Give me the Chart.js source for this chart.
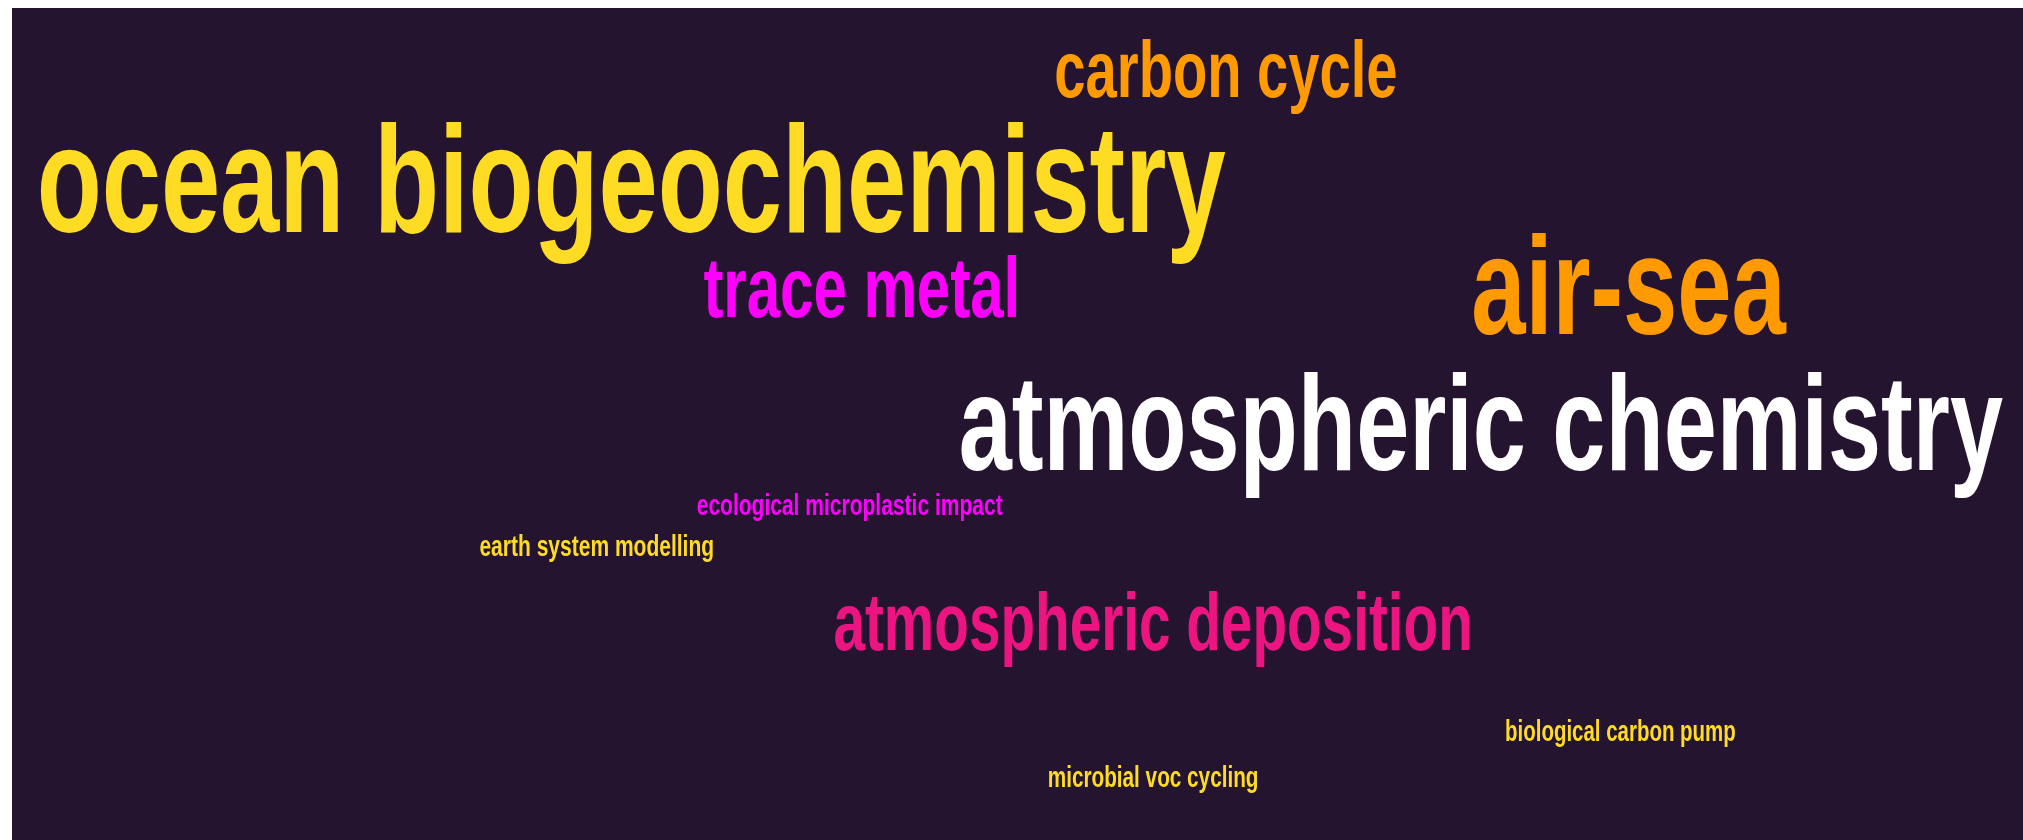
<!DOCTYPE html>
<html>
<head>
<meta charset="utf-8">
<title>Research topics</title>
<script src="https://cdn.jsdelivr.net/npm/chart.js@4.4.1/dist/chart.umd.min.js"></script>
<style>
    html, body {
        margin: 0;
        padding: 0;
        background: #ffffff;
        width: 2023px;
        height: 840px;
        overflow: hidden;
    }
    #cloudBg {
        position: absolute;
        left: 12px;
        top: 8px;
        right: 0;
        bottom: 0;
        background: #241430;
    }
    #cloudChart {
        position: absolute;
        left: 0;
        top: 0;
    }
</style>
</head>
<body>
<div id="cloudBg"></div>
<canvas id="cloudChart" width="2023" height="840"></canvas>
<script>
// topics and how often they come up
const words = [
    'ocean biogeochemistry',
    'carbon cycle',
    'trace metal',
    'air-sea',
    'atmospheric chemistry',
    'ecological microplastic impact',
    'earth system modelling',
    'atmospheric deposition',
    'biological carbon pump',
    'microbial voc cycling'
];
const weights = [38.5, 20.3, 21.7, 35.3, 34.5, 7.6, 7.6, 20.5, 7.4, 7.5];

// layout of the cloud, in percent of the width / height
const layoutX = [31.2, 60.6, 42.6, 80.5, 73.2, 42.0, 29.5, 57.0, 80.1, 57.0];
const layoutY = [27.6, 11.5, 37.7, 39.8, 56.0, 61.3, 66.2, 77.4, 88.2, 93.7];

const wordColors = ['#FFDC24', '#FF9A00', '#FF00FF', '#FF9A00', '#FFFFFF',
    '#FF00FF', '#FFDC24', '#EC1480', '#FFDC24', '#FFDC24'];

const sizePerWeight = 3.95;
const squeeze = 0.70;

const wordPlugin = {
    id: 'wordLabels',
    afterDatasetsDraw(chart) {
        const ctx = chart.ctx;
        const meta = chart.getDatasetMeta(0);
        meta.data.forEach((pt, i) => {
            const size = weights[i] * sizePerWeight;
            ctx.save();
            ctx.font = `bold ${size}px "Liberation Sans", Arial, sans-serif`;
            ctx.fillStyle = wordColors[i];
            ctx.textAlign = 'center';
            ctx.textBaseline = 'alphabetic';
            ctx.translate(pt.x, pt.y);
            ctx.scale(squeeze, 1);
            ctx.fillText(words[i], 0, 0);
            ctx.restore();
        });
    }
};

const ctx = document.getElementById('cloudChart').getContext('2d');
new Chart(ctx, {
    type: 'scatter',
    data: {
        labels: words,
        datasets: [{
            label: 'topics',
            data: words.map((w, i) => ({ x: layoutX[i], y: layoutY[i] })),
            pointRadius: 0,
            pointHoverRadius: 0
        }]
    },
    options: {
        responsive: false,
        animation: false,
        devicePixelRatio: 1,
        layout: { padding: 0 },
        plugins: {
            legend: { display: false },
            tooltip: { enabled: false }
        },
        scales: {
            x: { type: 'linear', min: 0, max: 100, display: false },
            y: { type: 'linear', min: 0, max: 100, reverse: true, display: false }
        }
    },
    plugins: [wordPlugin]
});
</script>
</body>
</html>
